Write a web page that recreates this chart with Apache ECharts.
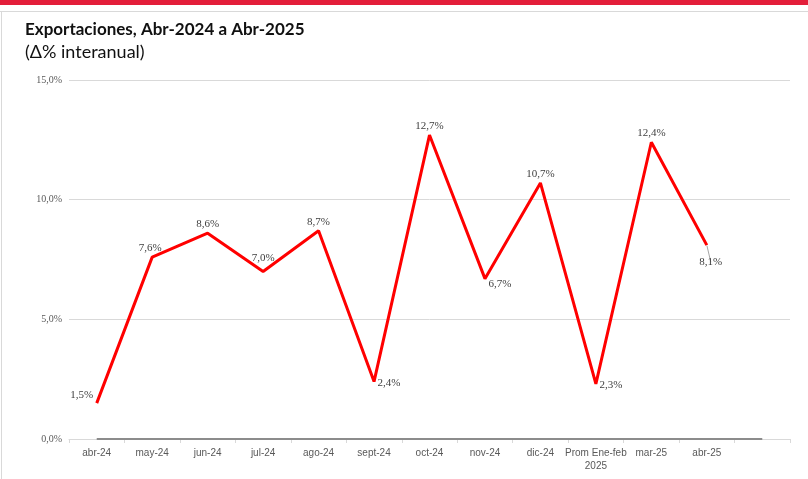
<!DOCTYPE html>
<html>
<head>
<meta charset="utf-8">
<script src="https://cdn.jsdelivr.net/npm/echarts@6/dist/echarts.min.js"></script>
<style>
  html, body { margin: 0; padding: 0; background: #fff; }
  #main { width: 808px; height: 479px; }
</style>
</head>
<body>
<div id="main"></div>
<script>
var categories = ['abr-24', 'may-24', 'jun-24', 'jul-24', 'ago-24', 'sept-24', 'oct-24',
  'nov-24', 'dic-24', 'Prom Ene-feb\n2025', 'mar-25', 'abr-25', ''];
var exportaciones = [1.5, 7.6, 8.6, 7.0, 8.7, 2.4, 12.7, 6.7, 10.7, 2.3, 12.4, 8.1];
var baseLine = [0, 0, 0, 0, 0, 0, 0, 0, 0, 0, 0, 0, 0];
var yTicks = [0, 5, 10, 15];

// where each data label sits
var labelPos = ['left', 'top', 'top', 'top', 'top', 'right', 'top', 'right', 'top', 'right', 'top', 'bottom'];
var labelOffset = [[0, -8], [-2, 0], [0, 0], [0, -4], [0, 0], [0, 2], [0, 0], [0, 5], [0, 0], [0, 1], [0, 0], [4, 8]];

var myChart = echarts.init(document.getElementById('main'));

var fmt = function (v) { return v.toFixed(1).replace('.', ',') + '%'; };

var option = {
  backgroundColor: '#fff',
  animation: false,
  graphic: [
    { type: 'rect', left: 0, top: 0, shape: { width: 808, height: 5 }, style: { fill: '#e31e3a' } },
    { type: 'rect', left: 0, top: 11, shape: { width: 808, height: 1 }, style: { fill: '#d9d9d9' } },
    { type: 'rect', left: 1, top: 11, shape: { width: 1, height: 468 }, style: { fill: '#d9d9d9' } },
    { type: 'text', left: 25, top: 21, style: { text: 'Exportaciones, Abr-2024 a Abr-2025', font: 'bold 17px Lato', fill: '#111' } },
    { type: 'text', left: 25, top: 43, style: { text: '(Δ% interanual)', font: '18px Lato', fill: '#111' } }
  ],
  grid: { left: 69, right: 18, top: 80, bottom: 40 },
  xAxis: {
    type: 'category',
    data: categories,
    boundaryGap: true,
    axisLine: { lineStyle: { color: '#d9d9d9', width: 1 } },
    axisTick: { show: true, lineStyle: { color: '#d9d9d9' }, length: 4 },
    axisLabel: {
      interval: 0, color: '#595959', fontSize: 10, margin: 8, lineHeight: 13,
      fontFamily: 'Liberation Sans Narrow, Liberation Sans'
    }
  },
  yAxis: {
    type: 'value',
    min: 0, max: 15, interval: 5,
    axisLine: { show: false },
    axisTick: { show: false },
    splitLine: { lineStyle: { color: '#d9d9d9', width: 1 } },
    axisLabel: {
      color: '#595959', fontSize: 10, margin: 7,
      fontFamily: 'Liberation Serif',
      formatter: function (v) { return yTicks.indexOf(v) >= 0 ? fmt(v) : ''; }
    }
  },
  series: [
    {
      name: 'base',
      type: 'line',
      data: baseLine,
      symbol: 'none',
      silent: true,
      lineStyle: { color: '#8c8c8c', width: 2 },
      z: 1
    },
    {
      name: 'Exportaciones',
      type: 'line',
      data: exportaciones.map(function (v, i) {
        return {
          value: v,
          label: { position: labelPos[i], offset: labelOffset[i] },
          labelLine: { show: i === 11, lineStyle: { color: '#a6a6a6', width: 1 } }
        };
      }),
      symbol: 'circle',
      symbolSize: 1,
      showSymbol: true,
      itemStyle: { color: 'rgba(0,0,0,0)' },
      lineStyle: { color: '#ff0000', width: 3 },
      label: {
        show: true, color: '#404040', fontSize: 11, distance: 3,
        fontFamily: 'Liberation Serif',
        formatter: function (p) { return fmt(p.value); }
      },
      z: 3
    }
  ]
};
myChart.setOption(option);
</script>
</body>
</html>
